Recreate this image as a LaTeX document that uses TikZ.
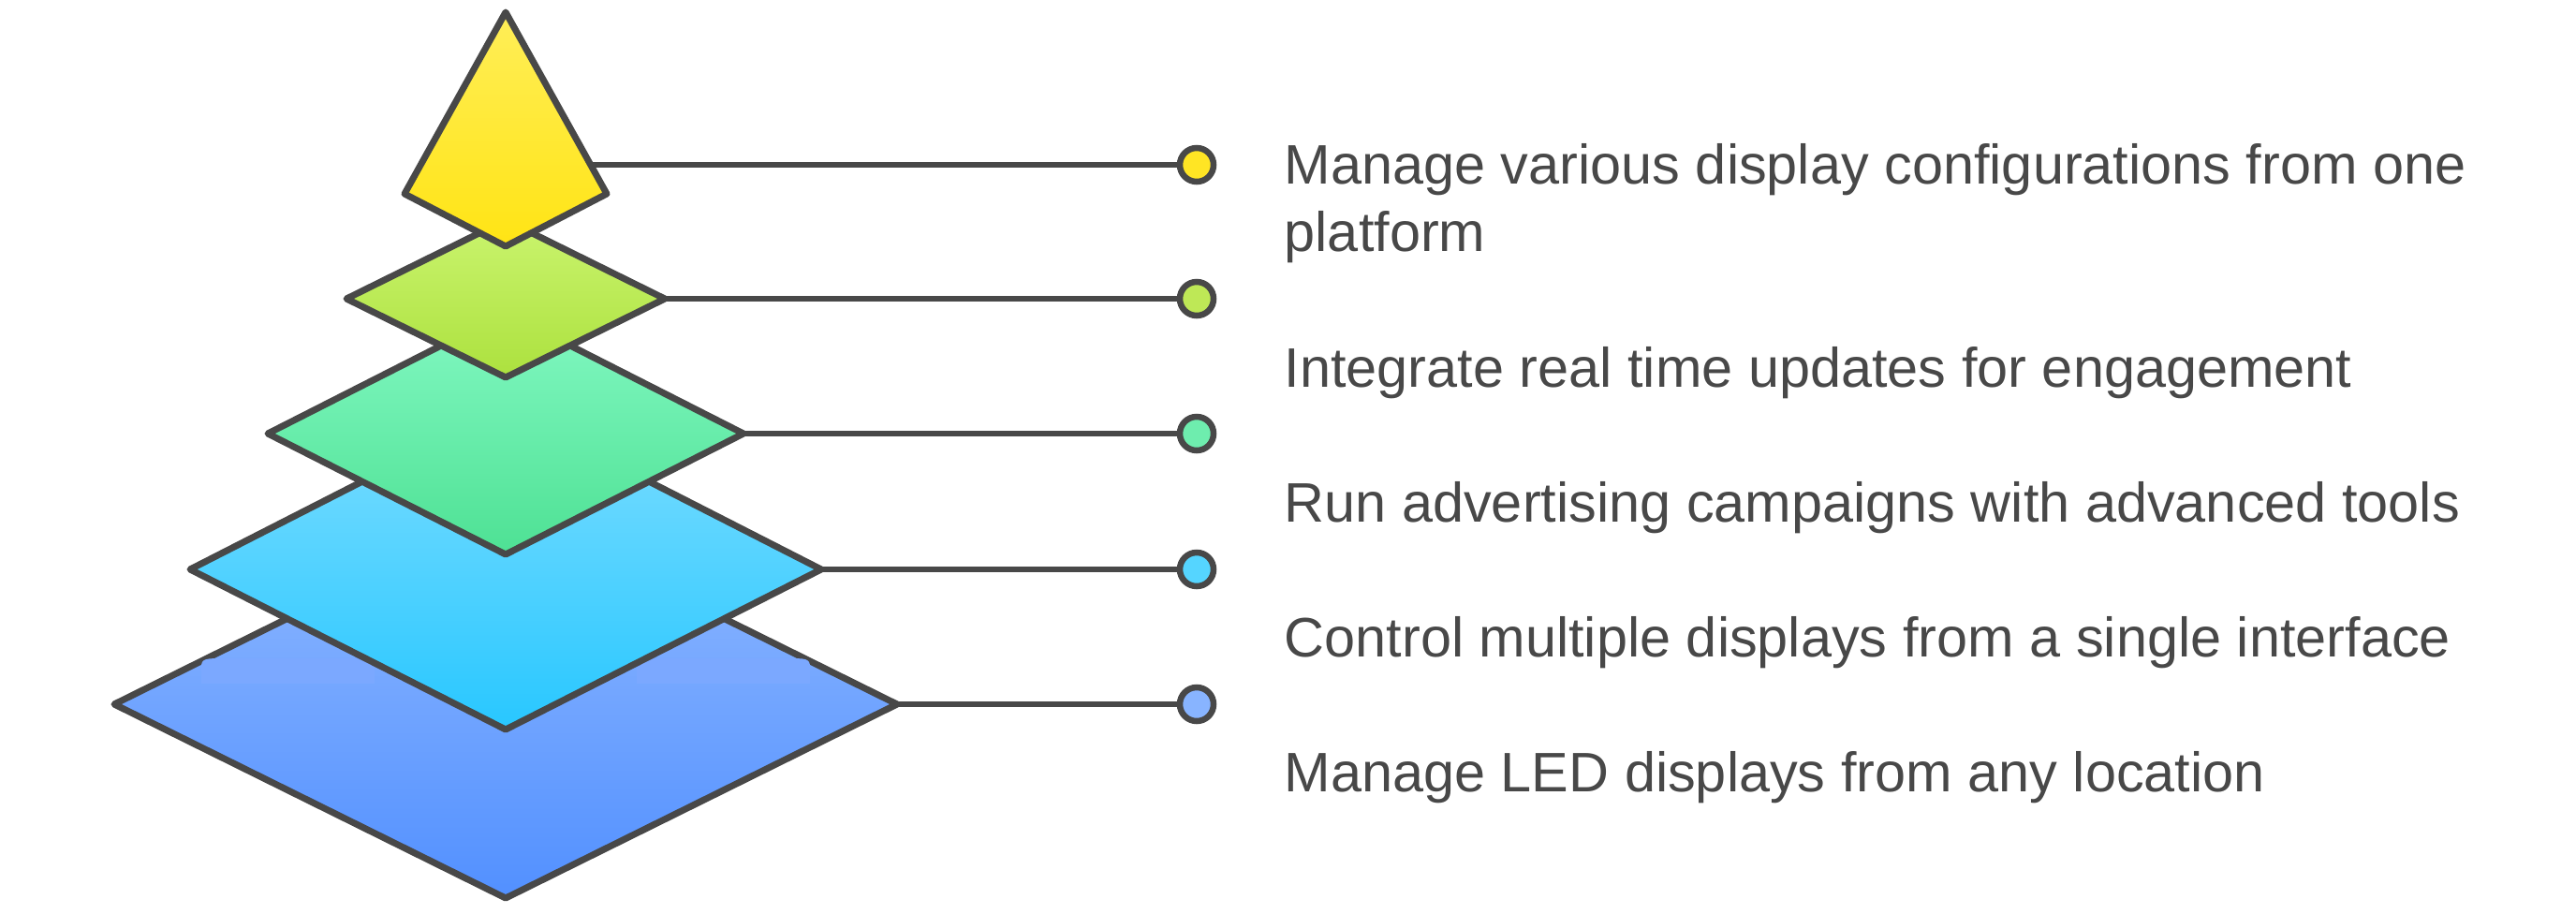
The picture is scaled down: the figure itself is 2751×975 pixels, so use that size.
\documentclass[tikz,border=0pt]{standalone}
\usepackage{fontspec}
\setmainfont{Liberation Sans}
\definecolor{edge}{HTML}{484848}
\definecolor{ylwTop}{HTML}{FFEE58}
\definecolor{ylwBot}{HTML}{FFE414}
\definecolor{limeTop}{HTML}{CAF46E}
\definecolor{limeBot}{HTML}{ACE13E}
\definecolor{mintTop}{HTML}{82F8C2}
\definecolor{mintBot}{HTML}{4EE194}
\definecolor{skyTop}{HTML}{7CDDFF}
\definecolor{skyBot}{HTML}{28C7FF}
\definecolor{blueTop}{HTML}{90B9FF}
\definecolor{blueBot}{HTML}{5290FF}
\definecolor{ylwDot}{HTML}{FFE524}
\definecolor{limeDot}{HTML}{BEE856}
\definecolor{mintDot}{HTML}{6EEDAE}
\definecolor{skyDot}{HTML}{55D5FF}
\definecolor{blueDot}{HTML}{88B4FF}
\definecolor{blueShade}{HTML}{7BA8FF}

\begin{document}
\begin{tikzpicture}[x=0.01cm,y=-0.01cm,
	layer/.style={draw=edge,line width=0.07cm,line join=round},
	dot/.style={circle,draw=edge,line width=0.065cm,minimum size=0.36cm,inner sep=0},
	link/.style={draw=edge,line width=0.06cm},
	txt/.style={anchor=base west,inner sep=0,text=edge,align=left,font=\fontsize{16.9}{20.2}\selectfont}]
	\useasboundingbox (0,0) rectangle (2751,975);
	\node[dot,fill=ylwDot] (d1) at (1278,176) {};
	\node[dot,fill=limeDot] (d2) at (1278,319) {};
	\node[dot,fill=mintDot] (d3) at (1278,463) {};
	\node[dot,fill=skyDot] (d4) at (1278,608) {};
	\node[dot,fill=blueDot] (d5) at (1278,752) {};
	\coordinate (k1) at (600,176);
	\coordinate (k2) at (710,319);
	\coordinate (k3) at (794,463);
	\coordinate (k4) at (877,608);
	\coordinate (k5) at (958,752);
	\draw[link] (k1)--(d1);
	\draw[link] (k2)--(d2);
	\draw[link] (k3)--(d3);
	\draw[link] (k4)--(d4);
	\draw[link] (k5)--(d5);
	\shade[layer,top color=blueTop,bottom color=blueBot] (122,752)--(540,545)--(k5)--(540,959)--cycle;
	\fill[blueShade] (215,730)--(215,712)..controls (215,703) and (220,703)..(240,703)--(375,703)..controls (395,703) and (400,703)..(400,712)--(400,730)--cycle;
	\fill[blueShade] (680,730)--(680,712)..controls (680,703) and (685,703)..(705,703)--(840,703)..controls (860,703) and (865,703)..(865,712)--(865,730)--cycle;
	\shade[layer,top color=skyTop,bottom color=skyBot] (203,608)--(540,436)--(k4)--(540,779)--cycle;
	\shade[layer,top color=mintTop,bottom color=mintBot] (286,463)--(540,334)--(k3)--(540,592)--cycle;
	\shade[layer,top color=limeTop,bottom color=limeBot] (370,319)--(540,235)--(k2)--(540,403)--cycle;
	\shade[layer,top color=ylwTop,bottom color=ylwBot] (540,13)--(648,207)--(540,263)--(432,207)--cycle;
	\node[txt] at (1371,268) {Manage various display configurations from one\\platform};
	\node[txt] at (1371,413) {Integrate real time updates for engagement};
	\node[txt] at (1371,557) {Run advertising campaigns with advanced tools};
	\node[txt] at (1371,701) {Control multiple displays from a single interface};
	\node[txt] at (1371,845) {Manage LED displays from any location};
\end{tikzpicture}
\end{document}
